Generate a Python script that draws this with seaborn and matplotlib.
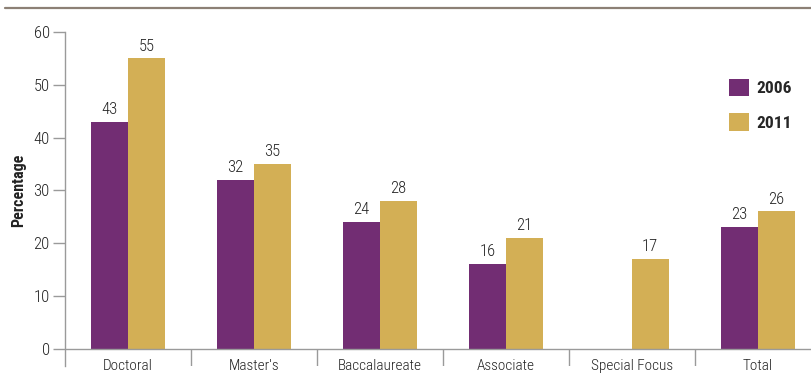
import numpy as np
import pandas as pd
import matplotlib
matplotlib.use("Agg")
import matplotlib.pyplot as plt
import seaborn as sns
from matplotlib.lines import Line2D
from matplotlib.patches import Patch
from matplotlib import font_manager

categories = ["Doctoral", "Master's", "Baccalaureate", "Associate", "Special Focus", "Total"]
years = ["2006", "2011"]
values_2006 = [43, 32, 24, 16, np.nan, 23]
values_2011 = [55, 35, 28, 21, 17, 26]

PURPLE = "#722D73"
GOLD = "#D3AF55"
AXIS = "#9A9A9A"
TEXT = "#222222"

sns.set_theme(style="white")
names = {f.name for f in font_manager.fontManager.ttflist}
narrow = [n for n in ["Liberation Sans Narrow", "Roboto Condensed", "Open Sans Condensed"] if n in names]
FONT = narrow[0] if narrow else "DejaVu Sans"
plt.rcParams["font.family"] = [FONT, "DejaVu Sans"]
plt.rcParams["font.stretch"] = "condensed"

df = pd.DataFrame({
    "category": categories * 2,
    "year": [years[0]] * len(categories) + [years[1]] * len(categories),
    "value": values_2006 + values_2011,
})

fig = plt.figure(figsize=(8.11, 3.74), dpi=100)
ymin = -3.3
ax = fig.add_axes([65 / 811, (374 - 366) / 374, 756 / 811, (366 - 32) / 374])

sns.barplot(data=df, x="category", y="value", hue="year", order=categories,
            hue_order=years, palette=[PURPLE, GOLD], width=0.58, saturation=1,
            ax=ax, legend=False, linewidth=0, errorbar=None)

ax.set_xlim(-0.5, 5.5)
ax.set_ylim(ymin, 60)
ax.set_yticks([0, 10, 20, 30, 40, 50, 60])
ax.tick_params(axis="y", length=9, width=1, color=AXIS, pad=2, labelsize=12, left=True)
ax.tick_params(axis="x", length=0, pad=-5, labelsize=11)
for lab in ax.get_yticklabels():
    lab.set_color(TEXT)
    lab.set_fontweight("light")
for lab in ax.get_xticklabels():
    lab.set_color(TEXT)
    lab.set_fontweight("light")

for s in ["top", "right", "bottom"]:
    ax.spines[s].set_visible(False)
ax.spines["left"].set_color(AXIS)
ax.spines["left"].set_linewidth(1)

ax.axhline(0, color=AXIS, lw=1, zorder=3)
ax.vlines([i + 0.5 for i in range(len(categories) - 1)], ymin, 0, color=AXIS, lw=1)

for cont in ax.containers:
    labels = ["" if np.isnan(v) else f"{v:.0f}" for v in cont.datavalues]
    ax.bar_label(cont, labels=labels, padding=3.5, fontsize=12, color=TEXT, fontweight="light")

ax.set_xlabel("")
ax.set_ylabel("Percentage", fontsize=11.5, fontweight="bold", color=TEXT)
ax.yaxis.set_label_coords(-0.052, (30 - ymin) / (60 - ymin))

handles = [Patch(facecolor=PURPLE, edgecolor="none"), Patch(facecolor=GOLD, edgecolor="none")]
fig.legend(handles, years, loc="upper left", bbox_to_anchor=(713 / 811, 1 - 63 / 374),
           frameon=False, handlelength=1.15, handleheight=1.15, handletextpad=0.45,
           labelspacing=1.0, prop={"weight": "bold", "size": 12.5, "stretch": "condensed"})

fig.add_artist(Line2D([5 / 811, 1], [1 - 8 / 374, 1 - 8 / 374], color="#8C8075", lw=1.6))

fig.savefig("out.png", dpi=100)
